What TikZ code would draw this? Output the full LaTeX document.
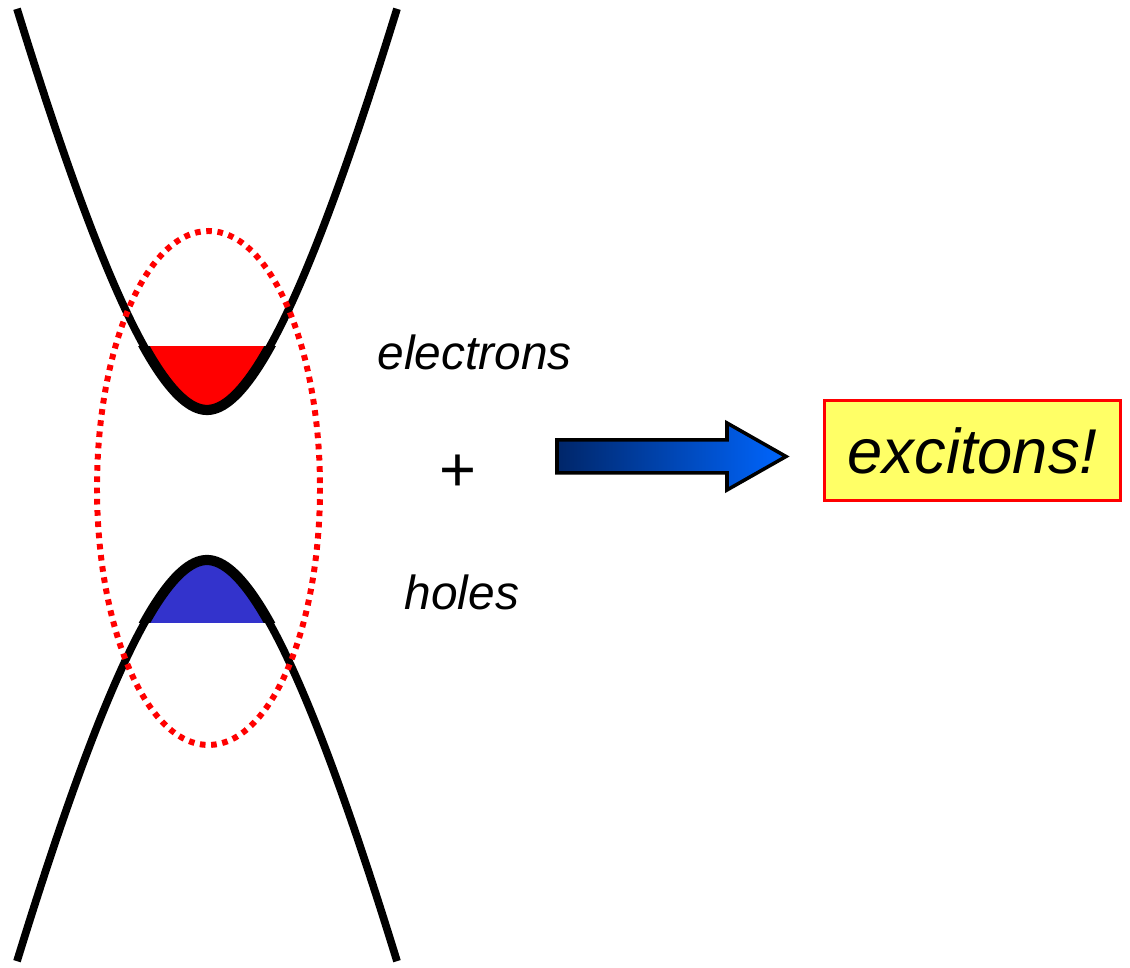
\documentclass[tikz,border=0pt]{standalone}
\usepackage{fontspec}
\setmainfont{Liberation Sans}
\definecolor{holeblue}{RGB}{51,51,204}
\definecolor{boxyellow}{RGB}{255,255,102}
\definecolor{arrdark}{RGB}{0,38,105}
\definecolor{arrlight}{RGB}{0,102,255}
\begin{document}
\begin{tikzpicture}[x=0.01cm,y=-0.01cm,
  band/.style={line width=2.2pt,black,line cap=butt},
  pair/.style={red,line width=1.7pt,dash pattern=on 1.6pt off 1.6pt},
  lbl/.style={anchor=base west,inner sep=0pt,font=\fontsize{13.6}{16}\selectfont\itshape},
  boxnode/.style={draw=red,line width=0.9pt,fill=boxyellow,minimum width=2.96cm,minimum height=1.0cm,inner sep=0pt,font=\fontsize{18}{22}\selectfont\itshape},
  declare function={drop(\t)=2.065*(\t/10)*(\t/10)/(1+0.00452*abs(\t));}]
\useasboundingbox (0,0) rectangle (1130,968);
% electron fill
\begin{scope}
  \clip (0,347) rectangle (420,430);
  \fill[red] plot[domain=-190:190,samples=121] ({207+\x},{410-drop(\x)}) -- cycle;
  \draw[line width=2.9pt] plot[domain=-190:190,samples=121] ({207+\x},{410-drop(\x)});
\end{scope}
% hole fill
\begin{scope}
  \clip (0,540) rectangle (420,623);
  \fill[holeblue] plot[domain=-190:190,samples=121] ({207+\x},{560+drop(\x)}) -- cycle;
  \draw[line width=2.9pt] plot[domain=-190:190,samples=121] ({207+\x},{560+drop(\x)});
\end{scope}
% bands
\draw[band] plot[domain=-190:190,samples=121] ({207+\x},{410-drop(\x)});
\draw[band] plot[domain=-190:190,samples=121] ({207+\x},{560+drop(\x)});
% exciton ellipse
\draw[pair] (208.5,488) ellipse [x radius=111.5, y radius=257];
% labels
\node[lbl] (el) at (377,370) {electrons};
\node[anchor=center,inner sep=0pt,font=\fontsize{18}{22}\selectfont] (plus) at (458,473) {+};
\node[lbl] (ho) at (404,610) {holes};
% arrow
\draw[line width=1pt,black,left color=arrdark,right color=arrlight,line join=miter]
  (557,440) -- (727,440) -- (727,423) -- (786,456.5) -- (727,490) -- (727,473) -- (557,473) -- cycle;
% result box
\node[boxnode] (ex) at (972.5,450.5) {excitons!};
\end{tikzpicture}
\end{document}
